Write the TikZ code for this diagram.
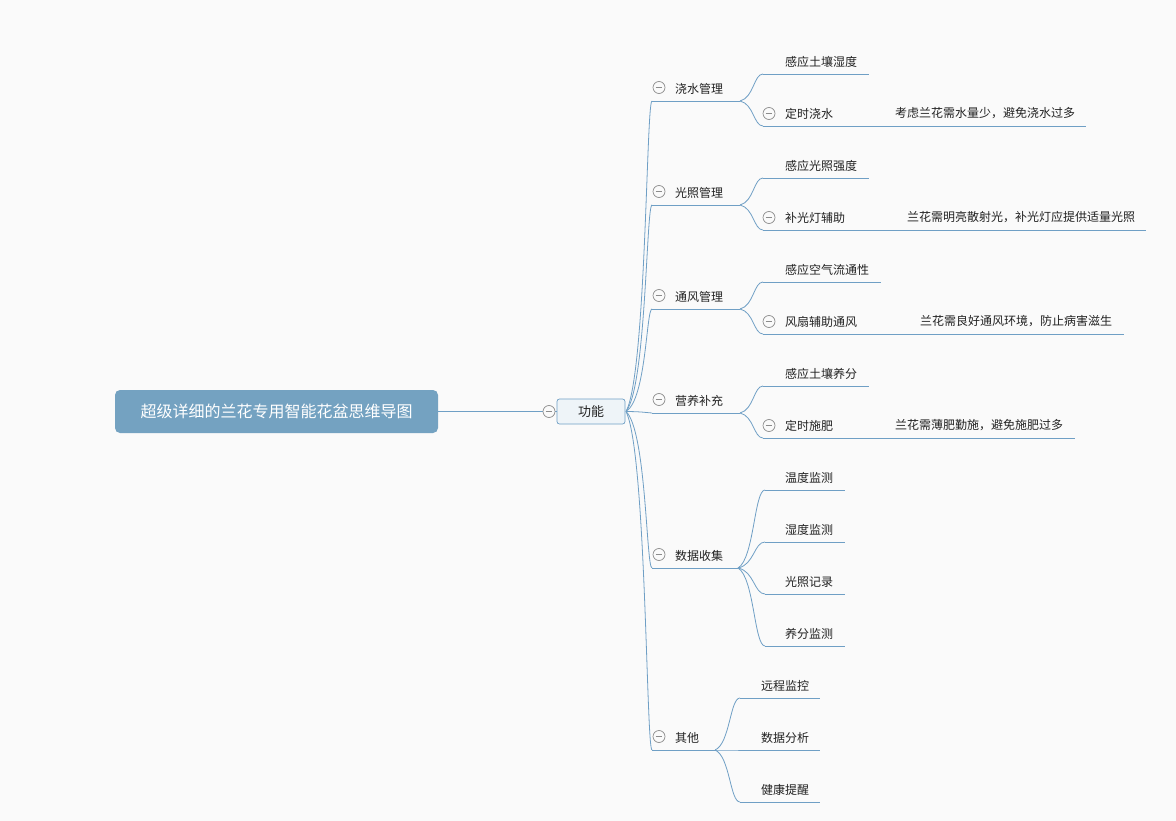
\documentclass[tikz,border=0pt]{standalone}
\usepackage{fontspec}
\setmainfont{Noto Sans CJK SC}
\usetikzlibrary{calc}
\definecolor{bg}{HTML}{FAFAFA}
\definecolor{ln}{HTML}{6F9FC5}
\definecolor{rootc}{HTML}{74A2C1}
\definecolor{boxf}{HTML}{EEF4F8}
\definecolor{ic}{HTML}{8C8C8C}
\definecolor{txt}{HTML}{222222}
\tikzset{
  lbl/.style={font=\fontsize{12}{14}\selectfont, text=txt, inner sep=0pt, anchor=west},
  ul/.style={draw=ln, line width=0.8pt},
  conn/.style={draw=ln, line width=0.8pt},
  iconc/.style={circle, draw=ic, fill=bg, minimum size=12pt, inner sep=0pt, line width=0.7pt},
  rootbox/.style={fill=rootc, rounded corners=5pt, minimum width=323pt, minimum height=43pt, text=white, inner sep=0pt, font=\fontsize{16}{18}\selectfont},
  subbox/.style={draw=ln, fill=boxf, rounded corners=2.5pt, minimum width=68pt, minimum height=25pt, inner sep=0pt, line width=0.7pt, text=txt, font=\fontsize{13}{15}\selectfont}
}
% topic: name, left x, right x, underline y, text x, text
\newcommand{\mmtopic}[6]{%
  \coordinate (#1-L) at (#2,#4);
  \coordinate (#1-R) at (#3,#4);
  \node[lbl] (#1) at (#5,#4-12.5) {#6};
  \draw[ul] (#1-L) -- (#1-R);
}
\newcommand{\mmicon}[3]{%
  \node[iconc] (#1) at (#2,#3) {};
  \draw[ic, line width=0.7pt] ($(#1)+(-3.4,0)$) -- ($(#1)+(3.4,0)$);
}
% connector: from, to, horizontal fraction of control points
\newcommand{\mmconn}[3]{%
  \draw[conn] let \p1=(#1), \p2=(#2) in (\p1) .. controls ({\x1+#3*(\x2-\x1)},{\y1+0.12*(\y2-\y1)}) and ({\x1+#3*(\x2-\x1)},{\y2}) .. (\p2);
}
\begin{document}
\begin{tikzpicture}[x=1pt,y=-1pt]
\fill[bg] (0,0) rectangle (1176,821);
\useasboundingbox (0,0) rectangle (1176,821);

% root and main topic
\node[rootbox] (root) at (276.5,411.5) {超级详细的兰花专用智能花盆思维导图};
\node[subbox] (gn) at (591,411.5) {功能};
\draw[conn] (root.east) -- (gn.west);
\mmicon{gnicon}{549}{411.5}
\coordinate (gn-R) at (626,411.5);

% level 2
\mmtopic{A}{652}{740}{101}{675}{浇水管理}
\mmtopic{B}{652}{740}{205}{675}{光照管理}
\mmtopic{C}{652}{740}{309}{675}{通风管理}
\mmtopic{D}{652}{740}{413}{675}{营养补充}
\mmtopic{E}{652}{738}{568}{675}{数据收集}
\mmtopic{F}{652}{715}{750}{675}{其他}
\mmconn{gn-R}{A-L}{0.78}
\mmconn{gn-R}{B-L}{0.78}
\mmconn{gn-R}{C-L}{0.78}
\mmconn{gn-R}{D-L}{0.78}
\mmconn{gn-R}{E-L}{0.78}
\mmconn{gn-R}{F-L}{0.78}
\mmicon{Ai}{659}{87.5}
\mmicon{Bi}{659}{191.5}
\mmicon{Ci}{659}{295.5}
\mmicon{Di}{659}{399.5}
\mmicon{Ei}{659}{554.5}
\mmicon{Fi}{659}{736.5}

% level 3 : 浇水管理
\mmtopic{A1}{763}{869}{74}{785}{感应土壤湿度}
\mmtopic{A2}{763}{854}{126}{785}{定时浇水}
\mmtopic{A2d}{874}{1086}{126}{895}{考虑兰花需水量少，避免浇水过多}
\mmconn{A-R}{A1-L}{0.6}
\mmconn{A-R}{A2-L}{0.6}
\draw[conn] (A2-R) -- (A2d-L);
\mmicon{A2i}{769}{113.5}

% 光照管理
\mmtopic{B1}{763}{869}{178}{785}{感应光照强度}
\mmtopic{B2}{763}{866}{230}{785}{补光灯辅助}
\mmtopic{B2d}{886}{1146}{230}{907}{兰花需明亮散射光，补光灯应提供适量光照}
\mmconn{B-R}{B1-L}{0.6}
\mmconn{B-R}{B2-L}{0.6}
\draw[conn] (B2-R) -- (B2d-L);
\mmicon{B2i}{769}{217.5}

% 通风管理
\mmtopic{C1}{763}{881}{282}{785}{感应空气流通性}
\mmtopic{C2}{763}{879}{334}{785}{风扇辅助通风}
\mmtopic{C2d}{899}{1124}{334}{920}{兰花需良好通风环境，防止病害滋生}
\mmconn{C-R}{C1-L}{0.6}
\mmconn{C-R}{C2-L}{0.6}
\draw[conn] (C2-R) -- (C2d-L);
\mmicon{C2i}{769}{321.5}

% 营养补充
\mmtopic{D1}{763}{869}{386}{785}{感应土壤养分}
\mmtopic{D2}{763}{854}{438}{785}{定时施肥}
\mmtopic{D2d}{874}{1075}{438}{895}{兰花需薄肥勤施，避免施肥过多}
\mmconn{D-R}{D1-L}{0.6}
\mmconn{D-R}{D2-L}{0.6}
\draw[conn] (D2-R) -- (D2d-L);
\mmicon{D2i}{769}{425.5}

% 数据收集
\mmtopic{E1}{765}{845}{490}{785}{温度监测}
\mmtopic{E2}{765}{845}{542}{785}{湿度监测}
\mmtopic{E3}{765}{845}{594}{785}{光照记录}
\mmtopic{E4}{765}{845}{646}{785}{养分监测}
\mmconn{E-R}{E1-L}{0.6}
\mmconn{E-R}{E2-L}{0.6}
\mmconn{E-R}{E3-L}{0.6}
\mmconn{E-R}{E4-L}{0.6}

% 其他
\mmtopic{F1}{740}{820}{698}{761}{远程监控}
\mmtopic{F2}{740}{820}{750}{761}{数据分析}
\mmtopic{F3}{740}{820}{802}{761}{健康提醒}
\mmconn{F-R}{F1-L}{0.6}
\mmconn{F-R}{F2-L}{0.6}
\mmconn{F-R}{F3-L}{0.6}
\end{tikzpicture}
\end{document}
